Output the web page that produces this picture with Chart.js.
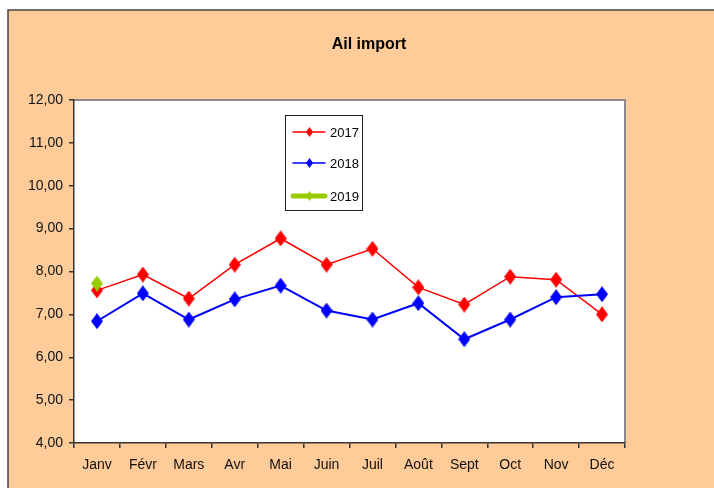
<!DOCTYPE html>
<html>
<head>
<meta charset="utf-8">
<script src="https://cdn.jsdelivr.net/npm/chart.js@4"></script>
<style>
  html, body { margin: 0; padding: 0; background: #fff; }
  #wrap { width: 714px; height: 488px; }
</style>
</head>
<body>
<div id="wrap"><canvas id="ailChart" width="714" height="488"></canvas></div>
<script>
const months = ["Janv", "Févr", "Mars", "Avr", "Mai", "Juin", "Juil", "Août", "Sept", "Oct", "Nov", "Déc"];
const values2017 = [7.56, 7.93, 7.37, 8.16, 8.77, 8.16, 8.53, 7.63, 7.23, 7.88, 7.81, 7.00];
const values2018 = [6.84, 7.49, 6.88, 7.35, 7.67, 7.09, 6.88, 7.26, 6.42, 6.88, 7.40, 7.47];
const values2019 = [7.72, null, null, null, null, null, null, null, null, null, null, null];
const yTicks = [4, 5, 6, 7, 8, 9, 10, 11, 12];

const FONT = "'Liberation Sans', Arial, sans-serif";

// tall diamond marker like the Excel one
function diamond(color, w, h) {
  const c = document.createElement("canvas");
  c.width = w; c.height = h;
  const g = c.getContext("2d");
  g.fillStyle = color;
  g.beginPath();
  g.moveTo(w / 2, 0);
  g.lineTo(w, h / 2);
  g.lineTo(w / 2, h);
  g.lineTo(0, h / 2);
  g.closePath();
  g.fill();
  return c;
}

const series = [
  { label: "2017", data: values2017, color: "#FF0000", width: 1.5, legendWidth: 1.5 },
  { label: "2018", data: values2018, color: "#0000FF", width: 2, legendWidth: 1.5 },
  { label: "2019", data: values2019, color: "#99CC00", width: 4, legendWidth: 5 }
];

const backdrop = {
  id: "backdrop",
  beforeDraw(chart) {
    const ctx = chart.ctx;
    const a = chart.chartArea;
    ctx.save();
    ctx.fillStyle = "#ffffff";
    ctx.fillRect(0, 0, chart.width, chart.height);
    ctx.fillStyle = "#FFCC99";
    ctx.fillRect(8, 10, chart.width, chart.height);
    ctx.strokeStyle = "#444";
    ctx.lineWidth = 1.5;
    ctx.beginPath();
    ctx.moveTo(8, chart.height);
    ctx.lineTo(8, 10);
    ctx.lineTo(chart.width, 10);
    ctx.stroke();
    ctx.fillStyle = "#ffffff";
    ctx.fillRect(a.left, a.top, a.right - a.left, a.bottom - a.top);
    ctx.strokeStyle = "#8a8a8a";
    ctx.lineWidth = 2;
    ctx.beginPath();
    ctx.moveTo(a.left, a.top);
    ctx.lineTo(a.right, a.top);
    ctx.lineTo(a.right, a.bottom);
    ctx.stroke();
    ctx.restore();
  },
  afterDraw(chart) {
    const ctx = chart.ctx;
    ctx.save();
    // title
    ctx.fillStyle = "#000";
    ctx.font = "bold 16px " + FONT;
    ctx.textAlign = "center";
    ctx.textBaseline = "middle";
    ctx.fillText("Ail import", 369, 45);
    // legend box
    ctx.fillStyle = "#fff";
    ctx.fillRect(285, 115, 78, 96);
    ctx.strokeStyle = "#222";
    ctx.lineWidth = 1;
    ctx.strokeRect(285.5, 115.5, 77, 95);
    const rows = [132, 163, 196];
    ctx.font = "13px " + FONT;
    ctx.textAlign = "left";
    series.forEach((s, i) => {
      const y = rows[i];
      ctx.strokeStyle = s.color;
      ctx.lineWidth = s.legendWidth;
      ctx.lineCap = "round";
      ctx.beginPath();
      ctx.moveTo(293, y);
      ctx.lineTo(325, y);
      ctx.stroke();
      ctx.drawImage(diamond(s.color, 7, 10), 306, y - 5);
      ctx.fillStyle = "#000";
      ctx.fillText(s.label, 330, y + 1);
    });
    ctx.restore();
  }
};

new Chart(document.getElementById("ailChart"), {
  type: "line",
  data: {
    labels: months,
    datasets: series.map((s, i) => ({
      label: s.label,
      data: s.data,
      borderColor: s.color,
      backgroundColor: s.color,
      borderWidth: s.width,
      pointStyle: diamond(s.color, 12, 16),
      pointRadius: 7,
      tension: 0,
      order: 2 - i
    }))
  },
  options: {
    responsive: false,
    animation: false,
    layout: { padding: { top: 100, right: 89, left: 0, bottom: 0 } },
    plugins: {
      legend: { display: false },
      title: { display: false },
      tooltip: { enabled: false }
    },
    scales: {
      x: {
        offset: true,
        grid: { offset: true, drawOnChartArea: false, tickLength: 5, color: "#333", lineWidth: 1.5 },
        border: { color: "#333", width: 1.5 },
        ticks: { color: "#111", padding: 9, font: { family: FONT, size: 14 }, maxRotation: 0 },
        afterFit(scale) { scale.height = 45; }
      },
      y: {
        min: 4,
        max: 12,
        afterBuildTicks(scale) { scale.ticks = yTicks.map(v => ({ value: v })); },
        grid: { drawOnChartArea: false, tickLength: 5, color: "#333", lineWidth: 1.5 },
        border: { color: "#333", width: 1.5 },
        ticks: {
          color: "#111",
          padding: 6,
          font: { family: FONT, size: 14 },
          callback: v => v.toFixed(2).replace(".", ",")
        },
        afterFit(scale) { scale.width = 74; }
      }
    }
  },
  plugins: [backdrop]
});
</script>
</body>
</html>
